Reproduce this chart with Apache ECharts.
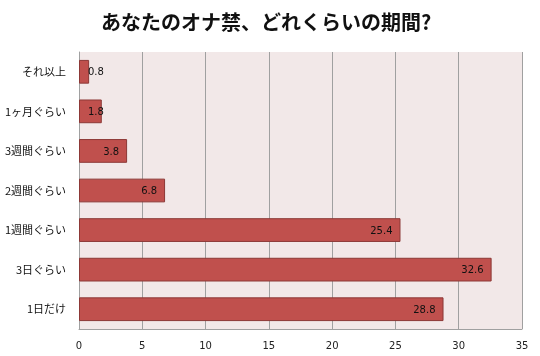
<!DOCTYPE html>
<html><head><meta charset="utf-8">
<script src="https://cdn.jsdelivr.net/npm/echarts@6/dist/echarts.min.js"></script>
<style>html,body{margin:0;padding:0;background:#fff}#c{width:540px;height:356px}</style>
</head><body><div id="c"></div>
<script>
var categories = ['1日だけ','3日ぐらい','1週間ぐらい','2週間ぐらい','3週間ぐらい','1ヶ月ぐらい','それ以上'];
var values = [28.8, 32.6, 25.4, 6.8, 3.8, 1.8, 0.8];
var titleText = 'あなたのオナ禁、どれくらいの期間?';
var seriesData = values.map(function(v){
  return v < 2 ? {value:v, label:{position:'insideLeft', distance:9}} : v;
});
var chart = echarts.init(document.getElementById('c'));
chart.setOption({
  animation:false,
  backgroundColor:'#ffffff',
  title:{text:titleText,left:96,top:7,textStyle:{fontFamily:'Noto Sans CJK JP',fontSize:20,fontWeight:'bold',color:'#111'}},
  grid:{left:79,right:18,top:52,bottom:27,backgroundColor:'#F2E8E8',show:true,borderWidth:0},
  xAxis:{type:'value',min:0,max:35,interval:5,
    axisLine:{show:true,lineStyle:{color:'#A0A0A0'}},
    axisTick:{show:false},
    splitLine:{show:true,lineStyle:{color:'#A0A0A0',width:1}},
    axisLabel:{margin:12,fontSize:10,color:'#222',fontFamily:'DejaVu Sans'}},
  yAxis:{type:'category',data:categories,
    axisLine:{show:true,lineStyle:{color:'#A0A0A0'}},
    axisTick:{show:false},
    axisLabel:{margin:13,fontSize:11,color:'#111',fontFamily:'Noto Sans CJK JP'}},
  series:[{type:'bar',data:seriesData,barCategoryGap:'40%',
    itemStyle:{color:'#C0504D',borderColor:'#8C3836',borderWidth:1},
    label:{show:true,position:'insideRight',distance:8,color:'#111',fontSize:10,fontFamily:'DejaVu Sans',offset:[0,1]}}]
});
</script></body></html>
